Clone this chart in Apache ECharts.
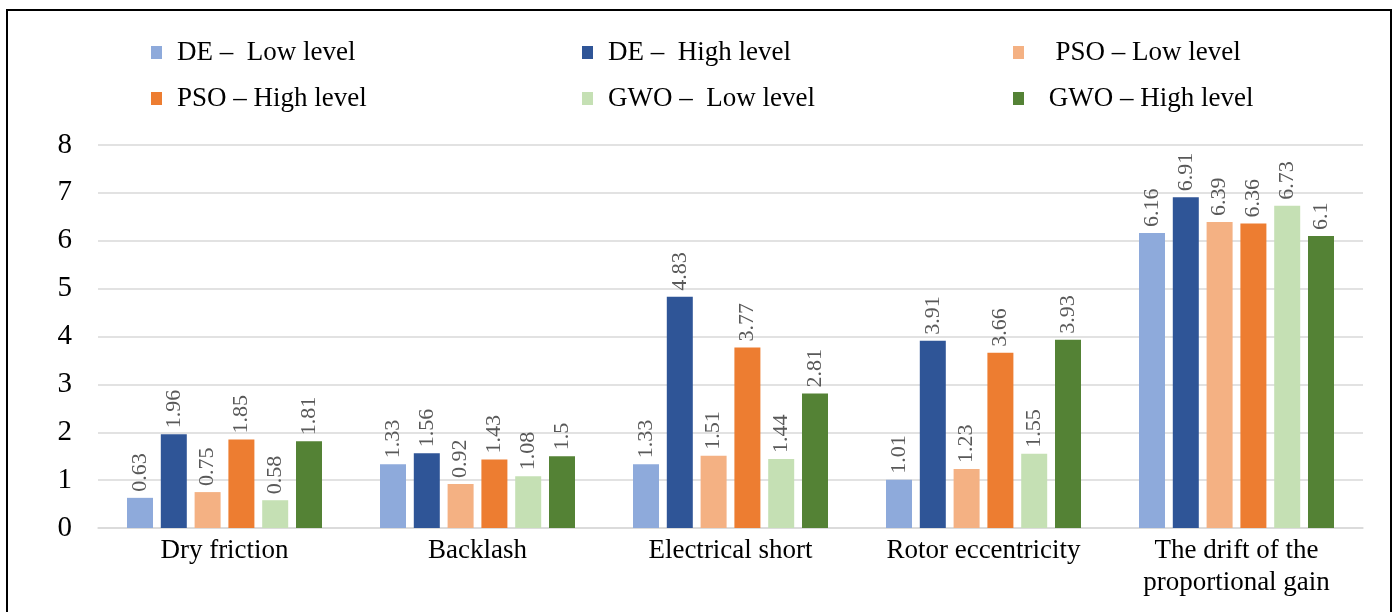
<!DOCTYPE html>
<html>
<head>
<meta charset="utf-8">
<script src="https://cdn.jsdelivr.net/npm/echarts@6/dist/echarts.min.js"></script>
<style>
  html, body { margin: 0; padding: 0; background: #fff; }
  #chart { width: 1394px; height: 612px; }
</style>
</head>
<body>
<div id="chart"></div>
<script>
// Fault types on the x axis
const categories = ['Dry friction', 'Backlash', 'Electrical short', 'Rotor eccentricity', 'The drift of the\nproportional gain'];

// Series names as shown in the legend
const seriesNames = ['DE –  Low level', 'DE –  High level', '  PSO – Low level', 'PSO – High level', 'GWO –  Low level', ' GWO – High level'];

// Values per optimiser and level
const deLow   = [0.63, 1.33, 1.33, 1.01, 6.16];
const deHigh  = [1.96, 1.56, 4.83, 3.91, 6.91];
const psoLow  = [0.75, 0.92, 1.51, 1.23, 6.39];
const psoHigh = [1.85, 1.43, 3.77, 3.66, 6.36];
const gwoLow  = [0.58, 1.08, 1.44, 1.55, 6.73];
const gwoHigh = [1.81, 1.5, 2.81, 3.93, 6.1];

// Y axis ticks
const yTicks = [0, 1, 2, 3, 4, 5, 6, 7, 8];

const seriesData = [deLow, deHigh, psoLow, psoHigh, gwoLow, gwoHigh];
const colors = ['#8eaadb', '#2f5597', '#f4b183', '#ed7d31', '#c5e0b4', '#548235'];

const serif = '"Liberation Serif", "Times New Roman", serif';

const chart = echarts.init(document.getElementById('chart'), null, { renderer: 'canvas' });

function legendColumn(left, names, padLeft) {
  return {
    left: left,
    top: 34,
    data: names,
    orient: 'vertical',
    itemWidth: 11,
    itemHeight: 13,
    itemGap: 19,
    icon: 'rect',
    textStyle: { fontFamily: serif, fontSize: 27, color: '#000', padding: [0, 0, 0, padLeft] },
    selectedMode: false
  };
}

chart.setOption({
  backgroundColor: '#fff',
  animation: false,
  color: colors,
  graphic: [{
    type: 'rect',
    shape: { x: 7, y: 10, width: 1384, height: 620 },
    style: { fill: 'none', stroke: '#000', lineWidth: 2 },
    silent: true
  }],
  legend: [
    legendColumn(146, [seriesNames[0], seriesNames[3]], 10),
    legendColumn(577, [seriesNames[1], seriesNames[4]], 10),
    legendColumn(1008, [seriesNames[2], seriesNames[5]], 13)
  ],
  grid: { left: 98, right: 31, top: 145, bottom: 84, containLabel: false },
  xAxis: {
    type: 'category',
    data: categories,
    axisLine: { lineStyle: { color: '#d9d9d9', width: 1.5 } },
    axisTick: { show: false },
    axisLabel: {
      fontFamily: serif, fontSize: 27, color: '#000',
      margin: 7, lineHeight: 32
    }
  },
  yAxis: {
    type: 'value',
    min: yTicks[0],
    max: yTicks[yTicks.length - 1],
    interval: 1,
    axisLine: { show: false },
    axisTick: { show: false },
    splitLine: { lineStyle: { color: '#d9d9d9', width: 1.5 } },
    axisLabel: { fontFamily: serif, fontSize: 29, color: '#000', margin: 26 }
  },
  series: seriesData.map((d, i) => ({
    name: seriesNames[i],
    type: 'bar',
    data: d,
    barWidth: 26,
    barGap: '30%',
    itemStyle: { color: colors[i] },
    label: {
      show: true,
      position: 'top',
      rotate: 90,
      align: 'left',
      verticalAlign: 'middle',
      distance: 6,
      fontFamily: serif,
      fontSize: 22,
      color: '#595959'
    }
  }))
});
</script>
</body>
</html>
